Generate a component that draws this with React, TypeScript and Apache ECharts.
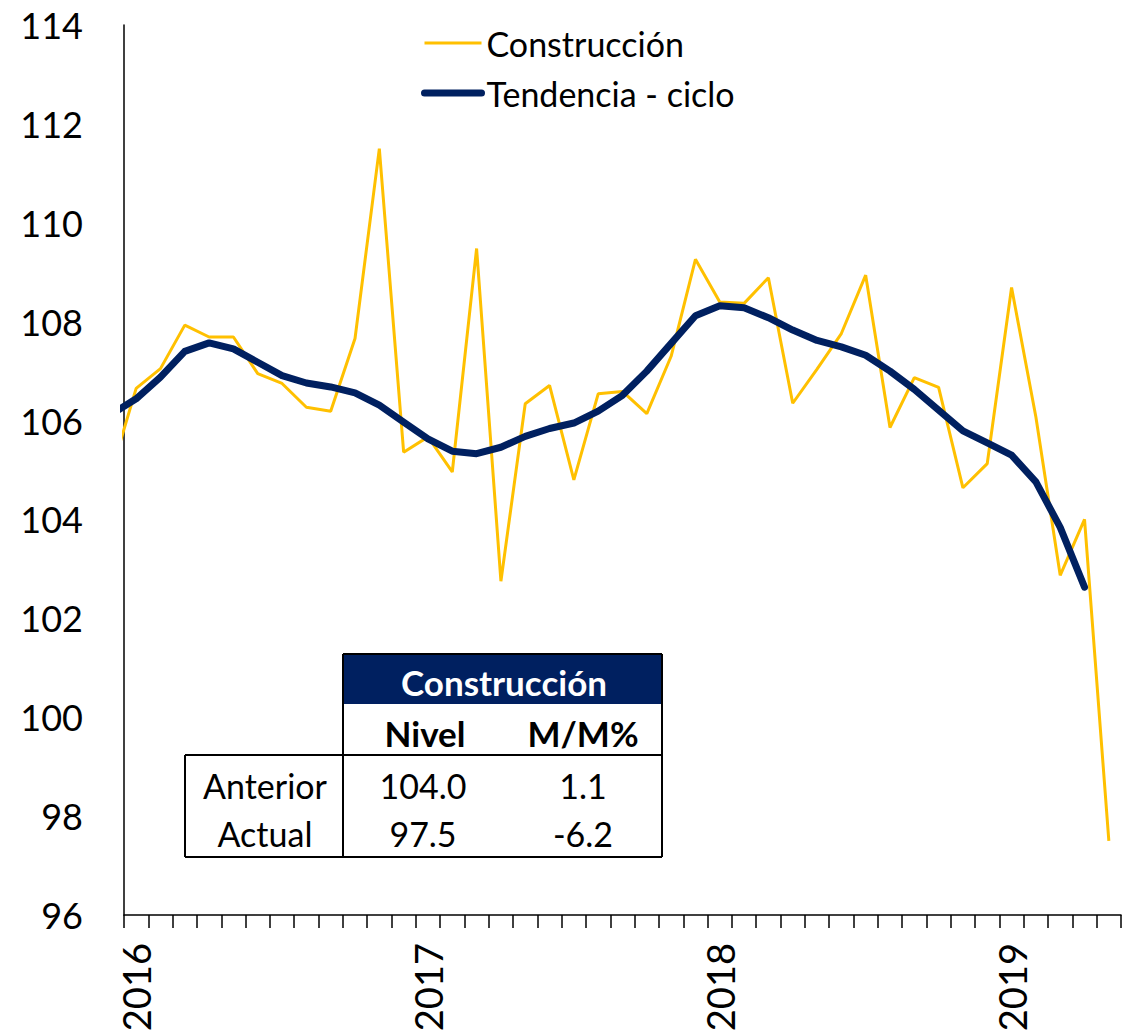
import React, { useEffect, useRef } from "react";
import * as echarts from "echarts";

// Months: the first one (Dec 2015) lies before the axis start and is clipped, as in the original
const months = [
  "2015-12",
  "2016-01", "2016-02", "2016-03", "2016-04", "2016-05", "2016-06",
  "2016-07", "2016-08", "2016-09", "2016-10", "2016-11", "2016-12",
  "2017-01", "2017-02", "2017-03", "2017-04", "2017-05", "2017-06",
  "2017-07", "2017-08", "2017-09", "2017-10", "2017-11", "2017-12",
  "2018-01", "2018-02", "2018-03", "2018-04", "2018-05", "2018-06",
  "2018-07", "2018-08", "2018-09", "2018-10", "2018-11", "2018-12",
  "2019-01", "2019-02", "2019-03", "2019-04", "2019-05",
];

const construccion = [
  105.0,
  106.65, 107.05, 107.93, 107.69, 107.69, 106.95, 106.75, 106.27, 106.19, 107.66, 111.5, 105.36,
  105.67, 104.96, 109.48, 102.75, 106.34, 106.71, 104.8, 106.54, 106.59, 106.14, 107.3, 109.26,
  108.4, 108.37, 108.89, 106.35, 107.04, 107.76, 108.94, 105.86, 106.87, 106.67, 104.64, 105.13,
  108.69, 106.07, 102.87, 104.0, 97.5,
];

const tendencia = [
  106.13,
  106.44, 106.88, 107.4, 107.57, 107.45, 107.18, 106.91, 106.76, 106.68, 106.56, 106.31, 105.97,
  105.63, 105.38, 105.33, 105.46, 105.68, 105.84, 105.95, 106.19, 106.51, 107.0, 107.56, 108.12,
  108.32, 108.28, 108.08, 107.83, 107.62, 107.49, 107.32, 107.0, 106.63, 106.21, 105.79, 105.55,
  105.3, 104.76, 103.84, 102.63, null,
];

const yTicks = { min: 96, max: 114, interval: 2 };

const tableTitle = "Construcción";
const tableHeaders = ["Nivel", "M/M%"];
const rowLabels = ["Anterior", "Actual"];
const nivelValues = [104.0, 97.5];
const mmValues = [1.1, -6.2];

const FONT = "Lato, 'Open Sans', sans-serif";
const YELLOW = "#FFC000";
const NAVY = "#002060";

export default function App() {
  const ref = useRef<HTMLDivElement>(null);

  useEffect(() => {
    const chart = echarts.init(ref.current!, null, { renderer: "svg" });
    const axisMonths = months.slice(1);
    const toPts = (arr: (number | null)[]) => arr.map((v, i) => [i - 1, v]);

    const line = (x1: number, y1: number, x2: number, y2: number) => ({
      type: "line",
      shape: { x1, y1, x2, y2 },
      style: { stroke: "#000", lineWidth: 2 },
      z: 20,
    });
    const txt = (text: string, x: number, y: number, size: number, bold = false, color = "#000") => ({
      type: "text",
      x,
      y,
      z: 21,
      style: {
        text,
        fill: color,
        fontSize: size,
        fontFamily: FONT,
        fontWeight: bold ? "bold" : "normal",
        align: "center",
        verticalAlign: "middle",
      },
    });

    const colX = [265, 423, 583];
    const rowY = [785, 833];

    const graphic: any[] = [
      { type: "rect", shape: { x: 343, y: 654, width: 319, height: 203 }, style: { fill: "#fff" }, z: 19 },
      { type: "rect", shape: { x: 185, y: 755, width: 158, height: 102 }, style: { fill: "#fff" }, z: 19 },
      { type: "rect", shape: { x: 343, y: 654, width: 319, height: 50 }, style: { fill: NAVY }, z: 19 },
      line(343, 654, 662, 654),
      line(343, 654, 343, 857),
      line(662, 654, 662, 857),
      line(185, 755, 662, 755),
      line(185, 857, 662, 857),
      line(185, 755, 185, 857),
      txt(tableTitle, 504, 682, 35, true, "#fff"),
      txt(tableHeaders[0], colX[1] + 2, 733, 35, true),
      txt(tableHeaders[1], colX[2], 733, 35, true),
    ];
    rowLabels.forEach((lab, r) => {
      graphic.push(txt(lab, colX[0], rowY[r], 34));
      graphic.push(txt(nivelValues[r].toFixed(1), colX[1], rowY[r], 34));
      graphic.push(txt(mmValues[r].toFixed(1), colX[2], rowY[r], 34));
    });

    chart.setOption({
      animation: false,
      backgroundColor: "#fff",
      grid: {
        left: 124,
        top: 25,
        right: 12,
        bottom: 118,
        containLabel: false,
        outerBoundsMode: "none",
      },
      legend: {
        orient: "vertical",
        left: 416,
        top: 18,
        itemWidth: 57,
        itemHeight: 14,
        itemGap: 10,
        textStyle: { fontSize: 34, fontFamily: FONT, color: "#000", lineHeight: 40 },
        data: [
          {
            name: "Construcción",
            lineStyle: { width: 3, color: YELLOW },
            itemStyle: { opacity: 0, color: "transparent", borderWidth: 0 },
          },
          {
            name: "Tendencia - ciclo",
            lineStyle: { width: 7, color: NAVY, cap: "round" },
            itemStyle: { opacity: 0, color: "transparent", borderWidth: 0 },
          },
        ],
      },
      xAxis: [
        {
          type: "category",
          data: axisMonths,
          boundaryGap: true,
          axisLine: { onZero: false, lineStyle: { color: "#000", width: 1.5 } },
          axisTick: { show: true, interval: 0, length: 13, lineStyle: { color: "#000", width: 1.5 } },
          axisLabel: {
            interval: (i: number) => i % 12 === 0,
            rotate: 90,
            margin: 28,
            fontSize: 38,
            color: "#000",
            fontFamily: FONT,
            formatter: (v: string) => v.slice(0, 4),
          },
          splitLine: { show: false },
        },
        { type: "value", min: -0.5, max: 40.5, show: false },
      ],
      yAxis: {
        type: "value",
        min: yTicks.min,
        max: yTicks.max,
        interval: yTicks.interval,
        axisLine: { show: true, onZero: false, lineStyle: { color: "#000", width: 1.5 } },
        axisTick: { show: false },
        splitLine: { show: false },
        axisLabel: { fontSize: 36, color: "#000", margin: 41, fontFamily: FONT },
      },
      series: [
        {
          name: "Construcción",
          type: "line",
          xAxisIndex: 1,
          data: toPts(construccion),
          symbol: "none",
          clip: true,
          lineStyle: { color: YELLOW, width: 3 },
          itemStyle: { color: YELLOW },
          z: 2,
        },
        {
          name: "Tendencia - ciclo",
          type: "line",
          xAxisIndex: 1,
          data: toPts(tendencia),
          symbol: "none",
          clip: true,
          lineStyle: { color: NAVY, width: 7, cap: "round", join: "round" },
          itemStyle: { color: NAVY },
          z: 3,
        },
      ],
      graphic,
    });
    return () => chart.dispose();
  }, []);

  return <div ref={ref} style={{ position: "absolute", left: 0, top: 0, width: 1133, height: 1033 }} />;
}
